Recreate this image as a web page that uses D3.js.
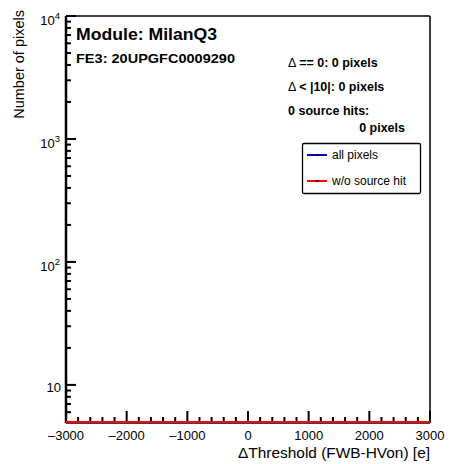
<!DOCTYPE html>
<html><head><meta charset="utf-8">
<script src="https://cdn.jsdelivr.net/npm/d3@7"></script>
<style>body{margin:0;background:#fff}svg{display:block;font-family:"Liberation Sans",Arial,sans-serif}</style>
</head><body><div id="chart"></div>
<script>
// ---- data ----
const binEdges = [-3000,-2500,-2000,-1500,-1000,-500,0,500,1000,1500,2000,2500,3000];
const allPixels = [0,0,0,0,0,0,0,0,0,0,0,0];
const woSourceHit = [0,0,0,0,0,0,0,0,0,0,0,0];
const xMajorTicks = [-3000,-2000,-1000,0,1000,2000,3000];
const yDecades = [10,100,1000,10000];
const yDomain = [4.9, 10000];
const infoLines = ["== 0: 0 pixels","< |10|: 0 pixels"];
const legendItems = [{label:"all pixels",color:"#0000cc"},{label:"w/o source hit",color:"#ff0000"}];

const W=454,H=464;
const m={l:66,r:430,t:16,b:423};
const svg=d3.select("#chart").append("svg").attr("width",W).attr("height",H);
const x=d3.scaleLinear().domain([-3000,3000]).range([m.l,m.r]);
const y=d3.scaleLog().domain(yDomain).range([m.b,m.t]);

// ticks
const xMinor=d3.range(-3000,3001,200);
const gx=svg.append("g");
xMinor.forEach(d=>{
  gx.append("line").attr("x1",x(d)).attr("x2",x(d)).attr("y1",m.b-1)
    .attr("y2",xMajorTicks.includes(d)?m.b-12:m.b-6)
    .attr("stroke","#000").attr("stroke-width",2);
});
const yMinor=[];
[1,10,100,1000].forEach(dec=>{for(let k=2;k<=9;k++){const v=dec*k;if(v>=yDomain[0]&&v<yDomain[1])yMinor.push(v);}});
const gy=svg.append("g");
yMinor.forEach(d=>{
  gy.append("line").attr("x1",m.l).attr("x2",m.l+5).attr("y1",y(d)).attr("y2",y(d))
    .attr("stroke","#000").attr("stroke-width",2);
});
yDecades.forEach(d=>{
  gy.append("line").attr("x1",m.l).attr("x2",m.l+10).attr("y1",y(d)).attr("y2",y(d))
    .attr("stroke","#000").attr("stroke-width",2);
});

// frame
const gf=svg.append("g");
gf.append("line").attr("x1",m.l).attr("x2",m.l).attr("y1",m.t).attr("y2",m.b).attr("stroke","#000").attr("stroke-width",2.5);
gf.append("line").attr("x1",m.l).attr("x2",m.r).attr("y1",m.t).attr("y2",m.t).attr("stroke","#000").attr("stroke-width",1.5);
gf.append("line").attr("x1",m.r).attr("x2",m.r).attr("y1",m.t).attr("y2",m.b).attr("stroke","#000").attr("stroke-width",1.5);
gf.append("line").attr("x1",m.l).attr("x2",m.r).attr("y1",m.b).attr("y2",m.b).attr("stroke","#000").attr("stroke-width",1.5);

// histograms (zero counts clip to frame bottom)
function histPath(vals){
  const p=d3.path();
  vals.forEach((v,i)=>{
    const yy=y(Math.max(v,yDomain[0]))-1;
    if(i===0)p.moveTo(x(binEdges[0]),yy);
    p.lineTo(x(binEdges[i]),yy);p.lineTo(x(binEdges[i+1]),yy);
  });
  return p.toString();
}
svg.append("path").attr("d",histPath(allPixels)).attr("fill","none").attr("stroke","#0000cc").attr("stroke-width",2);
svg.append("path").attr("d",histPath(woSourceHit)).attr("fill","none").attr("stroke","#ff0000").attr("stroke-width",2.2);

// x labels / titles
svg.append("g").selectAll("text").data(xMajorTicks).join("text")
  .attr("x",d=>x(d)).attr("y",440).attr("text-anchor","middle").attr("font-size",13)
  .text(d=>d<0?"\u2013"+Math.abs(d):d);
svg.append("text").attr("x",m.r).attr("y",458).attr("text-anchor","end").attr("font-size",14.5)
  .attr("textLength",192).attr("lengthAdjust","spacingAndGlyphs")
  .text("\u0394Threshold (FWB-HVon) [e]");
const yl=svg.append("g").selectAll("text").data(yDecades).join("text")
  .attr("font-size",13).attr("text-anchor","end");
yl.each(function(d){
  const t=d3.select(this);const e=Math.round(Math.log10(d));
  if(e===1){t.attr("x",61).attr("y",y(d)+7).text("10");}
  else{t.attr("x",60).attr("y",y(d)+9);
    t.append("tspan").text("10");
    t.append("tspan").attr("font-size",9.5).attr("dy",-6).text(e);}
});
svg.append("text").attr("transform","translate(23.5,10) rotate(-90)").attr("text-anchor","end")
  .attr("font-size",14.5).text("Number of pixels");

// annotations
svg.append("text").attr("x",76).attr("y",40).attr("font-size",16.5).attr("font-weight","bold")
  .attr("textLength",141).attr("lengthAdjust","spacingAndGlyphs").text("Module: MilanQ3");
svg.append("text").attr("x",76).attr("y",63).attr("font-size",13.5).attr("font-weight","bold")
  .attr("textLength",159).attr("lengthAdjust","spacingAndGlyphs").text("FE3: 20UPGFC0009290");
const info=svg.append("g").selectAll("text").data(infoLines).join("text")
  .attr("x",288).attr("y",(d,i)=>[66.5,90.5][i]).attr("font-size",12.5).attr("font-weight","bold");
info.append("tspan").attr("font-weight","normal").text("\u0394 ");
info.append("tspan").text(d=>d);
svg.append("text").attr("x",288).attr("y",115).attr("font-size",12.5).attr("font-weight","bold").text("0 source hits:");
svg.append("text").attr("x",405).attr("y",131.5).attr("text-anchor","end").attr("font-size",12.5).attr("font-weight","bold").text("0 pixels");

// legend
svg.append("rect").attr("x",302.5).attr("y",143.5).attr("width",118).attr("height",50)
  .attr("fill","#fff").attr("stroke","#000").attr("stroke-width",1.3).attr("rx",1.5);
const lg=svg.append("g").selectAll("g").data(legendItems).join("g")
  .attr("transform",(d,i)=>`translate(0,${[155,181][i]})`);
lg.append("line").attr("x1",307).attr("x2",327).attr("stroke",d=>d.color).attr("stroke-width",2);
lg.append("circle").attr("cx",317).attr("r",0.9).attr("fill","#000");
lg.append("text").attr("x",332).attr("y",4).attr("font-size",12).text(d=>d.label);
</script></body></html>
